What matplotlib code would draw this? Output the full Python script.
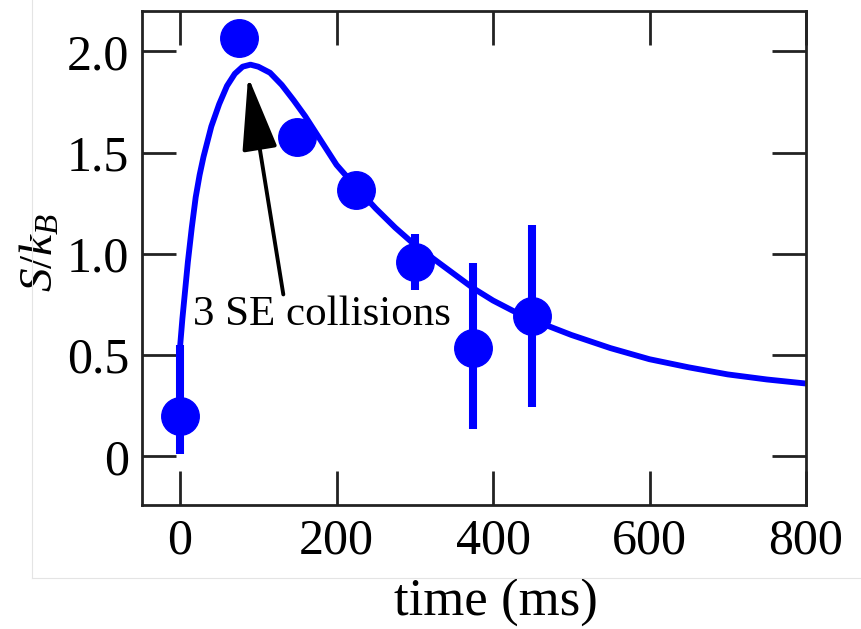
import matplotlib
matplotlib.use("Agg")
import matplotlib.pyplot as plt
from matplotlib.lines import Line2D

# Measured entropy per particle vs. time
time_ms = [0, 75, 150, 225, 300, 375, 450]
entropy = [0.20, 2.065, 1.58, 1.315, 0.96, 0.535, 0.695]
err_low = [0.19, 0.0, 0.0, 0.0, 0.14, 0.40, 0.45]
err_high = [0.35, 0.0, 0.0, 0.0, 0.14, 0.42, 0.45]

# Model curve (sampled)
curve_t = [0, 3, 6, 10, 15, 20, 25, 30, 40, 50, 60, 70, 80, 90, 100, 115, 130,
           145, 160, 180, 200, 225, 250, 275, 300, 333, 375, 400, 425, 450,
           500, 550, 600, 650, 700, 750, 800]
curve_s = [0.54, 0.68, 0.80, 0.96, 1.13, 1.28, 1.39, 1.48, 1.63, 1.74, 1.83,
           1.89, 1.925, 1.935, 1.925, 1.895, 1.835, 1.76, 1.68, 1.56, 1.44,
           1.33, 1.225, 1.13, 1.045, 0.95, 0.83, 0.77, 0.72, 0.675, 0.60,
           0.535, 0.48, 0.44, 0.405, 0.38, 0.36]

x_ticks = [0, 200, 400, 600, 800]
x_ticklabels = ["0", "200", "400", "600", "800"]
y_ticks = [0, 0.5, 1.0, 1.5, 2.0]
y_ticklabels = ["0", "0.5", "1.0", "1.5", "2.0"]

annotation_text = "3 SE collisions"

plt.rcParams["font.family"] = ["Liberation Serif", "DejaVu Serif"]
plt.rcParams["mathtext.fontset"] = "custom"
plt.rcParams["mathtext.rm"] = "Liberation Serif"
plt.rcParams["mathtext.it"] = "Liberation Serif:italic"

BLUE = "#0000ff"

fig = plt.figure(figsize=(8.62, 6.29), dpi=100)
fig.patch.set_facecolor("white")

# faint frame lines around the panel
fig.add_artist(Line2D([32 / 862, 32 / 862], [1.0, 1 - 578 / 629],
                      transform=fig.transFigure, color="#e4e4e4", lw=0.8))
fig.add_artist(Line2D([32 / 862, 1.0], [1 - 578 / 629, 1 - 578 / 629],
                      transform=fig.transFigure, color="#e4e4e4", lw=0.8))

ax = fig.add_axes([141.7 / 862, 1 - 505 / 629, (806 - 141.7) / 862, (505 - 11) / 629])

ax.plot(curve_t, curve_s, color=BLUE, lw=4.2, solid_capstyle="butt",
        solid_joinstyle="round", zorder=2)
ax.errorbar(time_ms, entropy, yerr=[err_low, err_high], fmt="o", ms=27,
            color=BLUE, mec=BLUE, ecolor=BLUE, elinewidth=5.8, capsize=0,
            zorder=3)

ax.set_xlim(-49, 800)
ax.set_ylim(-0.24, 2.2)

ax.set_xticks(x_ticks)
ax.set_xticklabels(x_ticklabels)
ax.set_yticks(y_ticks)
ax.set_yticklabels(y_ticklabels)

ax.tick_params(axis="both", which="major", direction="in", length=24.5,
               width=2.0, color="#222222", labelsize=36,
               top=True, right=True)
ax.tick_params(axis="x", pad=9)
ax.tick_params(axis="y", pad=9)

for sp in ax.spines.values():
    sp.set_linewidth(2.0)
    sp.set_color("#222222")

ax.set_xlabel("time (ms)", fontsize=38, va="center")
ax.xaxis.set_label_coords(0.533, -0.198)
ax.set_ylabel(r"$S/k_B$", fontsize=34, va="center", ha="center")
ax.yaxis.set_label_coords(-0.152, 0.512)

ax.text(16.6, 0.649, annotation_text, fontsize=31, ha="left", va="baseline",
        zorder=4)
ax.annotate("", xy=(87, 1.876), xytext=(132, 0.80),
            arrowprops=dict(arrowstyle="-|>,head_length=2.3,head_width=0.55",
                            mutation_scale=20, lw=2.8, color="black",
                            shrinkA=0, shrinkB=0),
            zorder=5)

fig.savefig("out.png", dpi=100, facecolor="white")
